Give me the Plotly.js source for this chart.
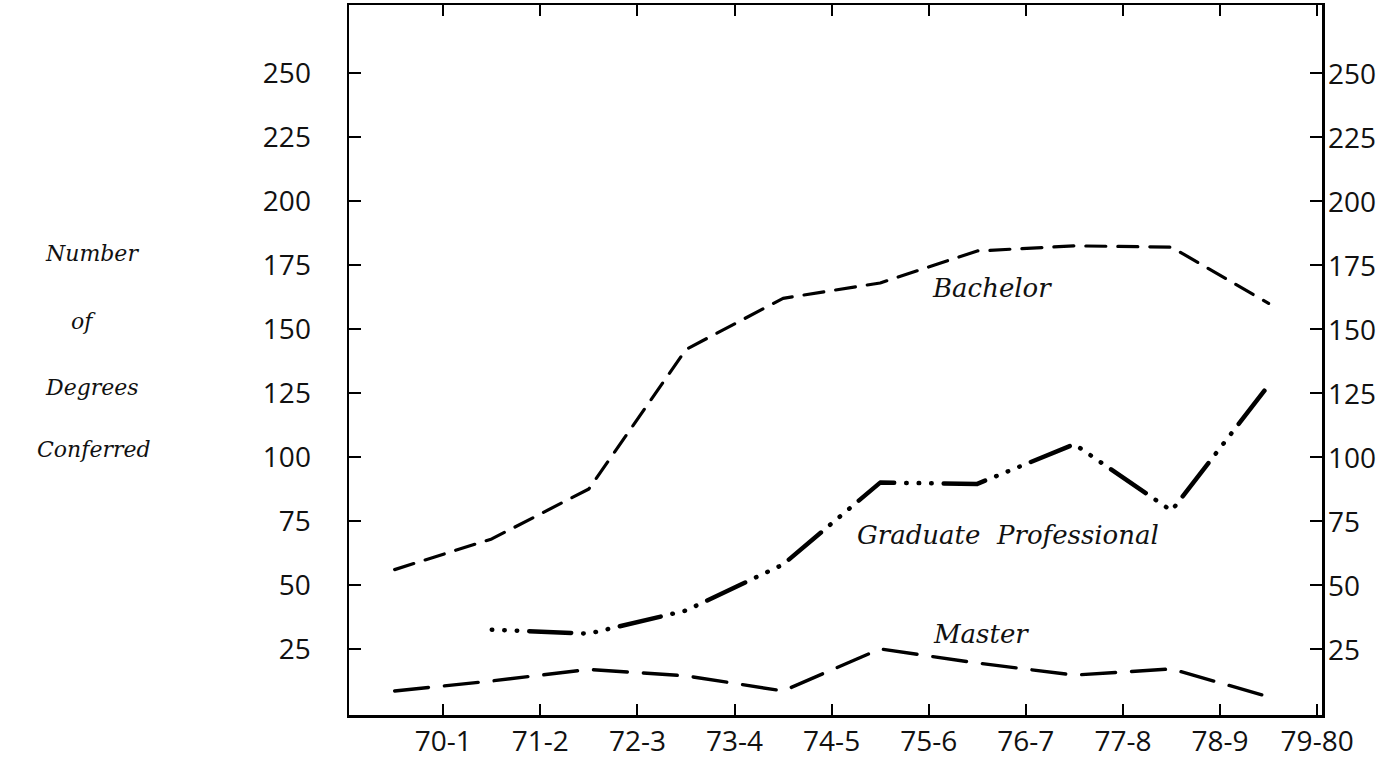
<!DOCTYPE html>
<html>
<head>
<meta charset="utf-8">
<script src="https://cdn.plot.ly/plotly-3.0.1.min.js"></script>
<style>
  html, body { margin: 0; padding: 0; background: #fff; }
  #chart { width: 1396px; height: 758px; }
  .scatterlayer .js-line { stroke-linecap: round !important; stroke-linejoin: round !important; }
</style>
</head>
<body>
<div id="chart"></div>
<script>
// ---- data ----
const categories = ['70-1', '71-2', '72-3', '73-4', '74-5', '75-6', '76-7', '77-8', '78-9', '79-80'];
const bachelor = [56, 68, 87.5, 142, 162, 168, 180.5, 182.5, 182, 160];
const graduateProfessional = [null, 32.5, 31, 40, 58, 90, 89.5, 105, 79, 128];
const master = [8.6, 12.5, 17, 14.5, 8.6, 25, 19.5, 14.8, 17.2, 6.3];
const yTickValues = [25, 50, 75, 100, 125, 150, 175, 200, 225, 250];
const yTitleLines = ['Number', 'of', 'Degrees', 'Conferred'];
const seriesLabels = ['Bachelor', 'Graduate  Professional', 'Master'];

// ---- build ----
const xIdx = categories.map((c, i) => i);
const xTickPos = categories.map((c, i) => i + 0.5);

const tickFont = { family: 'Open Sans, DejaVu Sans, sans-serif', size: 28, color: '#111' };
const italicFont = { family: 'DejaVu Serif, serif', size: 26, color: '#111', style: 'italic' };
const titleFont = { family: 'DejaVu Serif, serif', size: 22, color: '#111', style: 'italic' };

const traces = [
  { x: xIdx, y: bachelor, type: 'scatter', mode: 'lines', name: seriesLabels[0],
    line: { color: '#000', width: 3.2, dash: '20px,12px' }, hoverinfo: 'skip' },
  { x: xIdx, y: graduateProfessional, type: 'scatter', mode: 'lines', name: seriesLabels[1],
    connectgaps: false,
    line: { color: '#000', width: 4.5, dash: '0.5px,12px,0.5px,12px,0.5px,12px,42px,12px' }, hoverinfo: 'skip' },
  { x: xIdx, y: master, type: 'scatter', mode: 'lines', name: seriesLabels[2],
    line: { color: '#000', width: 3.4, dash: '34px,16px' }, hoverinfo: 'skip' }
];

const yRange = [-0.8, 276.6];
const xRange = [-0.47, 9.55];

const titleYpx = [254, 321, 388, 449];
const titleXpx = [92, 83, 92, 94];
const plotL = 349, plotR = 1322, plotT = 5, plotB = 715;

const annotations = [
  { x: 6.15, y: 166, xref: 'x', yref: 'y', text: seriesLabels[0], showarrow: false, font: italicFont },
  { x: 6.32, y: 69.5, xref: 'x', yref: 'y', text: seriesLabels[1], showarrow: false, font: italicFont },
  { x: 6.04, y: 31, xref: 'x', yref: 'y', text: seriesLabels[2], showarrow: false, font: italicFont }
].concat(yTitleLines.map((t, i) => ({
  x: (titleXpx[i] - plotL) / (plotR - plotL),
  y: (plotB - titleYpx[i]) / (plotB - plotT),
  xref: 'paper', yref: 'paper', xanchor: 'center', yanchor: 'middle',
  text: t, showarrow: false, font: titleFont
}))).concat(yTickValues.map(v => ({
  // right-hand tick labels, placed on the y scale
  x: 1, y: v, xref: 'paper', yref: 'y', xanchor: 'left', yanchor: 'middle',
  xshift: 4, text: String(v), showarrow: false, font: tickFont
})));

const layout = {
  width: 1396, height: 758,
  margin: { l: plotL, r: 1396 - plotR, t: plotT, b: 758 - plotB, pad: 0 },
  paper_bgcolor: '#fff', plot_bgcolor: '#fff',
  showlegend: false,
  xaxis: {
    range: xRange, tickmode: 'array', tickvals: xTickPos, ticktext: categories,
    ticks: 'inside', ticklen: 11, tickwidth: 2, tickcolor: '#000',
    showline: true, linewidth: 2.5, linecolor: '#000', mirror: 'ticks',
    showgrid: false, zeroline: false, tickfont: tickFont, fixedrange: true
  },
  yaxis: {
    range: yRange, tickmode: 'array', tickvals: yTickValues,
    ticks: 'inside', ticklen: 12, tickwidth: 2, tickcolor: '#000',
    showline: true, linewidth: 2.5, linecolor: '#000', mirror: 'ticks',
    ticklabelstandoff: 30,
    showgrid: false, zeroline: false, tickfont: tickFont, fixedrange: true
  },
  annotations: annotations
};

Plotly.newPlot('chart', traces, layout, { staticPlot: true, displayModeBar: false });
</script>
</body>
</html>
